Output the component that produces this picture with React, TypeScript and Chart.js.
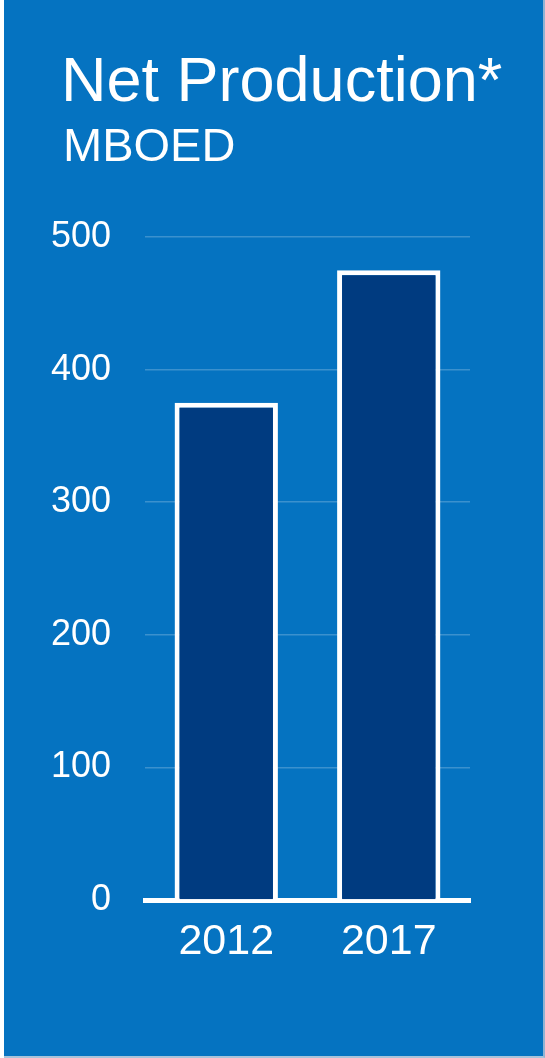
import React, { useEffect, useRef } from "react";
import { Chart, registerables } from "chart.js";

Chart.register(...registerables);

const categories = ["2012", "2017"];
const netProduction = [375, 475];
const yTicks = [0, 100, 200, 300, 400, 500];
const titleText = "Net Production*";
const subtitleText = "MBOED";

const FONT = "Arial, 'Liberation Sans', Helvetica, sans-serif";
const BG = "#0573C1";
const BAR = "#003B80";

export default function App() {
  const ref = useRef<HTMLCanvasElement | null>(null);

  useEffect(() => {
    document.body.style.margin = "0";
    const canvas = ref.current;
    if (!canvas) return;
    const chart = new Chart(canvas, {
      type: "bar",
      data: {
        labels: categories,
        datasets: [
          {
            label: "Net Production",
            data: netProduction,
            backgroundColor: BAR,
            borderColor: "#FFFFFF",
            borderWidth: 5,
            borderSkipped: "bottom",
            categoryPercentage: 1,
            barPercentage: 0.636,
          },
        ],
      },
      options: {
        responsive: false,
        devicePixelRatio: 1,
        animation: false,
        layout: { padding: { top: 237, right: 75, bottom: 0, left: 0 } },
        plugins: {
          legend: { display: false },
          tooltip: { enabled: false },
          title: { display: false },
        },
        scales: {
          x: {
            z: 1,
            grid: { display: false },
            border: { display: true, color: "#FFFFFF", width: 5 },
            ticks: {
              color: "#FFFFFF",
              font: { family: FONT, size: 43 },
              padding: 8,
              maxRotation: 0,
            },
            afterFit: (scale: any) => {
              scale.height = 158;
            },
          },
          y: {
            min: 0,
            max: 500,
            afterBuildTicks: (scale: any) => {
              scale.ticks = yTicks.map((v) => ({ value: v }));
            },
            grid: {
              drawTicks: false,
              color: (ctx: any) =>
                ctx.tick && ctx.tick.value === 0 ? "rgba(0,0,0,0)" : "rgba(255,255,255,0.22)",
              lineWidth: 1.5,
            },
            border: { display: false },
            ticks: {
              color: "#FFFFFF",
              font: { family: FONT, size: 36 },
              padding: 34,
            },
            afterFit: (scale: any) => {
              scale.width = 145;
            },
          },
        },
      },
    });
    return () => chart.destroy();
  }, []);

  return (
    <div
      style={{
        position: "absolute",
        left: 0,
        top: 0,
        width: 545,
        height: 1058,
        background: "#FFFFFF",
        overflow: "hidden",
      }}
    >
      <div
        style={{
          position: "absolute",
          left: 4,
          top: 0,
          width: 539,
          height: 1056,
          background: BG,
          borderRight: "2px solid #8FB3D3",
          borderBottom: "2px solid #A9C3DA",
        }}
      />
      <canvas
        ref={ref}
        width={545}
        height={1058}
        style={{ position: "absolute", left: 0, top: 0, width: 545, height: 1058 }}
      />
      <div
        style={{
          position: "absolute",
          left: 61,
          top: 48,
          fontFamily: FONT,
          fontSize: 63,
          lineHeight: 1,
          color: "#FFFFFF",
          whiteSpace: "nowrap",
        }}
      >
        {titleText}
      </div>
      <div
        style={{
          position: "absolute",
          left: 63,
          top: 121,
          fontFamily: FONT,
          fontSize: 47,
          lineHeight: 1,
          color: "#FFFFFF",
          whiteSpace: "nowrap",
        }}
      >
        {subtitleText}
      </div>
    </div>
  );
}
